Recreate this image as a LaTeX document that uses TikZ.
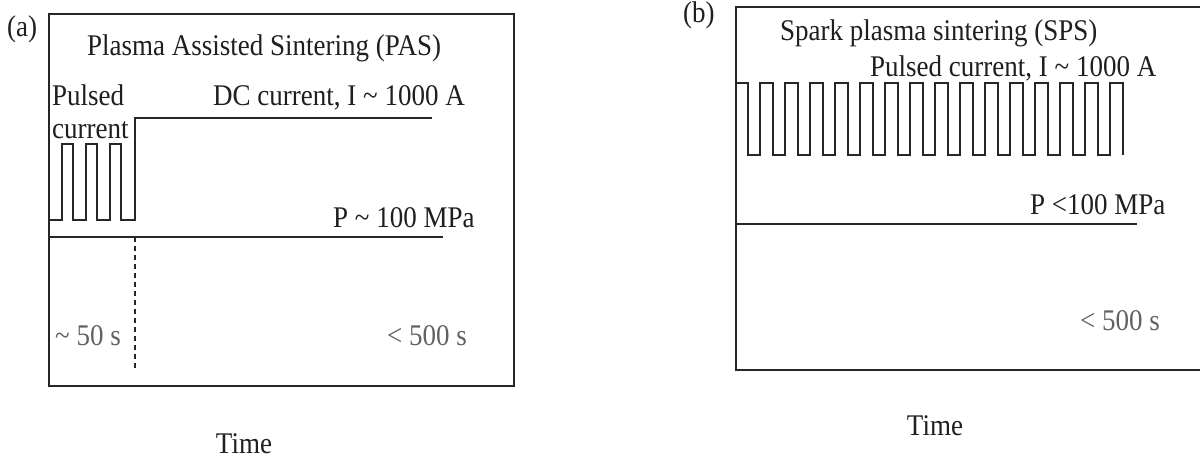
\documentclass[tikz,border=0pt]{standalone}
\usepackage{fontspec}
\setmainfont[FakeStretch=0.9]{Liberation Serif}
\begin{document}
\begin{tikzpicture}[x=1pt,y=-1pt,
  frame/.style={line width=2.1pt,black!85},
  wave/.style={line width=1.9pt,black!85,line join=miter},
  lbl/.style={inner sep=0pt,anchor=base west,font=\fontsize{30}{32}\selectfont,text=black!88},
  lblgray/.style={lbl,text=black!62},
  dotline/.style={line width=2.4pt,black!85,dash pattern=on 5pt off 4pt}]
\useasboundingbox (0,0) rectangle (1200,459);
\fill[white] (0,0) rectangle (1200,459);
% ---------- panel (a)
\draw[frame] (49,14) rectangle (514,386);
\node[lbl] (la) at (7,36) {(a)};
\node[lbl] (ta) at (87,55) {Plasma Assisted Sintering (PAS)};
\node[lbl] (pul) at (52,105) {Pulsed};
\node[lbl] (cur) at (52,138) {current};
\node[lbl] (dc) at (213,105) {DC current, I \textasciitilde\ 1000 A};
\node[lbl] (pa) at (333,227) {P \textasciitilde\ 100 MPa};
\node[lblgray] (t50) at (55,345) {\textasciitilde\ 50 s};
\node[lblgray] (t500a) at (387,345) {< 500 s};
\node[lbl,anchor=base] (timea) at (244,453) {Time};
\coordinate (dcend) at (432,118);
\draw[wave] (50,220) -- (62,220)
  foreach \k in {0,1,2} { -- ({62+24*\k},144) -- ({73+24*\k},144) -- ({73+24*\k},220) -- ({86+24*\k},220) }
  -- (135,220) -- (135,118) -- (dcend);
\coordinate (pa0) at (50,237);
\coordinate (pa1) at (443,237);
\draw[wave] (pa0) -- (pa1);
\coordinate (ds0) at (135,237);
\coordinate (ds1) at (135,368);
\draw[dotline] (ds0) -- (ds1);
% ---------- panel (b)
\draw[frame] (1202,7) -- (736,7) -- (736,370) -- (1202,370);
\node[lbl] (lb) at (683,22) {(b)};
\node[lbl] (tb) at (780,40) {Spark plasma sintering (SPS)};
\node[lbl] (pcb) at (870,76) {Pulsed current, I \textasciitilde\ 1000 A};
\node[lbl] (pb) at (1030,214) {P <100 MPa};
\node[lblgray] (t500b) at (1080,330) {< 500 s};
\node[lbl,anchor=base] (timeb) at (935,435) {Time};
\draw[wave] (736,83)
  foreach \k in {0,...,14} { -- ({748+25*\k},83) -- ({748+25*\k},155) -- ({760+25*\k},155) -- ({760+25*\k},83) }
  -- (1123,83) -- (1123,155);
\coordinate (pb0) at (736,224);
\coordinate (pb1) at (1137,224);
\draw[wave] (pb0) -- (pb1);
\end{tikzpicture}
\end{document}
